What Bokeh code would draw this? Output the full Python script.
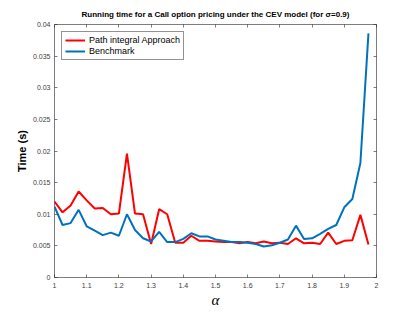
from bokeh.plotting import figure
from bokeh.models import Range1d, FixedTicker, LinearAxis, Legend, LegendItem, CustomLabelingPolicy
from bokeh.embed import file_html
from bokeh.resources import INLINE

alpha = [1.0, 1.025, 1.05, 1.075, 1.1, 1.125, 1.15, 1.175, 1.2, 1.225,
         1.25, 1.275, 1.3, 1.325, 1.35, 1.375, 1.4, 1.425, 1.45, 1.475,
         1.5, 1.525, 1.55, 1.575, 1.6, 1.625, 1.65, 1.675, 1.7, 1.725,
         1.75, 1.775, 1.8, 1.825, 1.85, 1.875, 1.9, 1.925, 1.95, 1.975]

path_integral = [0.0120, 0.0103, 0.0114, 0.0136, 0.0122, 0.0109, 0.0110, 0.0100, 0.0101, 0.0196,
                 0.0101, 0.0100, 0.0053, 0.0108, 0.0100, 0.0055, 0.0055, 0.0066, 0.0058, 0.0058,
                 0.0057, 0.0056, 0.0056, 0.0054, 0.0056, 0.0054, 0.0057, 0.0054, 0.0055, 0.0053,
                 0.0062, 0.0054, 0.0055, 0.0053, 0.0071, 0.0053, 0.0058, 0.0059, 0.0099, 0.0052]

benchmark = [0.0112, 0.0083, 0.0086, 0.0107, 0.0081, 0.0074, 0.0067, 0.0071, 0.0066, 0.0100,
             0.0075, 0.0062, 0.0057, 0.0072, 0.0056, 0.0056, 0.0061, 0.0070, 0.0065, 0.0065,
             0.0060, 0.0058, 0.0056, 0.0056, 0.0055, 0.0053, 0.0049, 0.0051, 0.0055, 0.0060,
             0.0082, 0.0061, 0.0062, 0.0069, 0.0077, 0.0083, 0.0111, 0.0124, 0.0181, 0.0386]

x_ticks = [1.0, 1.1, 1.2, 1.3, 1.4, 1.5, 1.6, 1.7, 1.8, 1.9, 2.0]
x_tick_labels = ["1", "1.1", "1.2", "1.3", "1.4", "1.5", "1.6", "1.7", "1.8", "1.9", "2"]
y_ticks = [0.0, 0.005, 0.01, 0.015, 0.02, 0.025, 0.03, 0.035, 0.04]
y_tick_labels = ["0", "0.005", "0.01", "0.015", "0.02", "0.025", "0.03", "0.035", "0.04"]

title_text = "Running time for a Call option pricing under the CEV model (for σ=0.9)"
series_names = ["Path integral Approach", "Benchmark"]

FONT = "Liberation Sans"
AX = "#262626"

p = figure(frame_width=322, frame_height=253, output_backend="svg", toolbar_location=None,
           x_range=Range1d(1, 2), y_range=Range1d(0, 0.04),
           min_border_left=54, min_border_top=24, min_border_right=30, min_border_bottom=26,
           background_fill_color="white", border_fill_color="white")
p.xgrid.visible = False
p.ygrid.visible = False
p.outline_line_color = None

p.title.text = title_text
p.title.align = "center"
p.title.text_font = FONT
p.title.text_font_size = "8px"
p.title.text_font_style = "bold"
p.title.text_color = "black"
p.title.standoff = 3
p.title.offset = 0

hide_all = CustomLabelingPolicy(code="for (const i of indices) { indices.unset(i) } return indices")

def style_axis(ax, show_labels):
    ax.axis_line_color = AX
    ax.axis_line_width = 0.6
    ax.major_tick_line_color = AX
    ax.major_tick_line_width = 0.6
    ax.major_tick_in = 3
    ax.major_tick_out = 0
    ax.minor_tick_line_color = None
    ax.major_label_text_font = FONT
    ax.major_label_text_color = "#404040"
    if show_labels:
        ax.major_label_text_font_size = "7px"
    else:
        ax.major_label_text_font_size = "1px"
        ax.major_label_standoff = 0
        ax.major_label_policy = hide_all

xa = p.xaxis[0]
ya = p.yaxis[0]
style_axis(xa, True)
style_axis(ya, True)
xa.ticker = FixedTicker(ticks=x_ticks)
ya.ticker = FixedTicker(ticks=y_ticks)
xa.major_label_overrides = {t: l for t, l in zip(x_ticks, x_tick_labels)}
ya.major_label_overrides = {t: l for t, l in zip(y_ticks, y_tick_labels)}
xa.major_label_standoff = 5
ya.major_label_standoff = 4

xa.axis_label = "α"
xa.axis_label_text_font = "Liberation Serif"
xa.axis_label_text_font_style = "italic"
xa.axis_label_text_font_size = "15px"
xa.axis_label_text_color = "black"
xa.axis_label_standoff = 1

ya.axis_label = "Time (s)"
ya.axis_label_text_font = FONT
ya.axis_label_text_font_style = "bold"
ya.axis_label_text_font_size = "11px"
ya.axis_label_text_color = "black"
ya.axis_label_standoff = 2

ra = LinearAxis(ticker=FixedTicker(ticks=y_ticks))
style_axis(ra, False)
p.add_layout(ra, "right")
ta = LinearAxis(ticker=FixedTicker(ticks=x_ticks))
style_axis(ta, False)
p.add_layout(ta, "above")

r1 = p.line(alpha, path_integral, line_color="#FF0000", line_width=2)
r2 = p.line(alpha, benchmark, line_color="#0072BD", line_width=2)

leg = Legend(items=[LegendItem(label=series_names[0], renderers=[r1]),
                    LegendItem(label=series_names[1], renderers=[r2])],
             location="top_left", margin=7, padding=3, spacing=1,
             glyph_width=20, glyph_height=10, label_height=10, label_standoff=4,
             label_text_font=FONT, label_text_font_size="9px", label_text_color="black",
             border_line_color=AX, border_line_width=0.6, background_fill_alpha=1)
p.add_layout(leg, "center")

open("out.html", "w").write(file_html(p, INLINE))
